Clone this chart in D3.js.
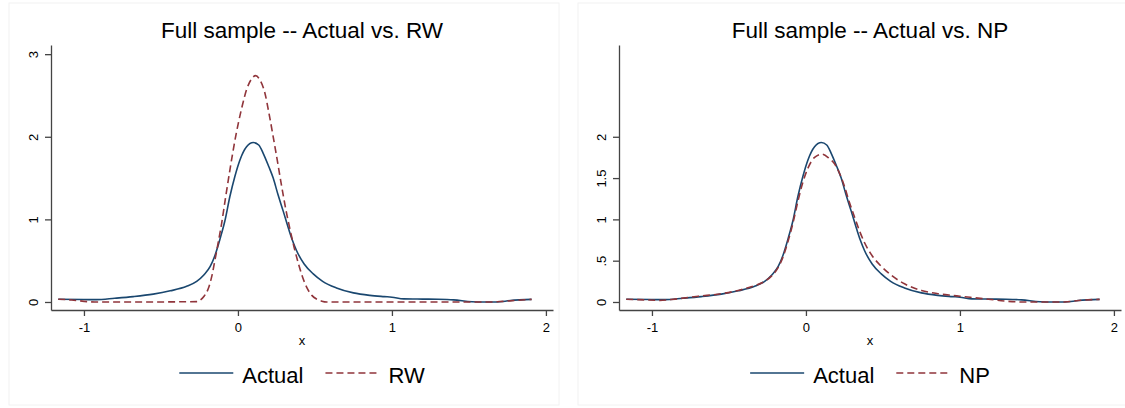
<!DOCTYPE html>
<html>
<head>
<meta charset="utf-8">
<script src="https://cdn.jsdelivr.net/npm/d3@7"></script>
<style>
  body { margin: 0; background: #fff; }
  svg { display: block; font-family: "Liberation Sans", Arial, sans-serif; }
</style>
</head>
<body>
<script>
// density estimates
const actualX = [-1.167, -1.0, -0.92, -0.8, -0.68, -0.55, -0.44, -0.333, -0.268, -0.22, -0.18, -0.15, -0.117, -0.085, -0.052, -0.02, 0.013, 0.056, 0.1, 0.135, 0.164, 0.2, 0.229, 0.26, 0.294, 0.33, 0.353, 0.381, 0.43, 0.489, 0.55, 0.64, 0.75, 0.857, 0.95, 1.0, 1.077, 1.2, 1.3, 1.4, 1.52, 1.6, 1.68, 1.77, 1.907];
const actualY = [0.034, 0.03, 0.028, 0.045, 0.065, 0.095, 0.135, 0.19, 0.25, 0.33, 0.43, 0.56, 0.76, 0.98, 1.28, 1.52, 1.72, 1.88, 1.93, 1.9, 1.8, 1.64, 1.5, 1.3, 1.1, 0.88, 0.75, 0.62, 0.46, 0.34, 0.25, 0.17, 0.11, 0.08, 0.065, 0.058, 0.038, 0.035, 0.033, 0.026, 0.003, 0.0, 0.0, 0.018, 0.032];

const rwX = [-1.167, -1.08, -0.96, -0.93, -0.6, -0.26, -0.247, -0.22, -0.193, -0.17, -0.149, -0.128, -0.106, -0.08, -0.052, -0.025, 0.002, 0.03, 0.056, 0.085, 0.115, 0.145, 0.175, 0.2, 0.229, 0.255, 0.284, 0.31, 0.338, 0.365, 0.392, 0.42, 0.446, 0.48, 0.511, 0.545, 0.576, 1.0, 1.65, 1.7, 1.8, 1.907];
const rwY = [0.034, 0.024, 0.002, 0.0, 0.0, 0.005, 0.02, 0.07, 0.16, 0.31, 0.51, 0.72, 0.95, 1.27, 1.6, 1.9, 2.16, 2.39, 2.57, 2.69, 2.74, 2.68, 2.53, 2.3, 2.0, 1.72, 1.4, 1.13, 0.88, 0.66, 0.47, 0.3, 0.18, 0.08, 0.035, 0.01, 0.0, 0.0, 0.0, 0.005, 0.018, 0.032];

const npX = [-1.167, -1.05, -0.95, -0.85, -0.7, -0.55, -0.44, -0.33, -0.268, -0.22, -0.18, -0.15, -0.117, -0.085, -0.052, -0.02, 0.013, 0.056, 0.105, 0.15, 0.187, 0.22, 0.25, 0.28, 0.317, 0.35, 0.38, 0.43, 0.49, 0.55, 0.64, 0.75, 0.86, 0.95, 1.0, 1.1, 1.2, 1.3, 1.4, 1.6, 1.68, 1.77, 1.907];
const npY = [0.034, 0.025, 0.02, 0.035, 0.07, 0.1, 0.14, 0.2, 0.25, 0.32, 0.42, 0.54, 0.73, 0.95, 1.22, 1.45, 1.62, 1.75, 1.79, 1.74, 1.67, 1.55, 1.4, 1.22, 1.02, 0.85, 0.72, 0.56, 0.43, 0.33, 0.22, 0.14, 0.1, 0.08, 0.07, 0.05, 0.03, 0.01, 0.0, 0.0, 0.0, 0.018, 0.032];

const xTicks = [-1, 0, 1, 2];
const yTicksRW = [0, 1, 2, 3];
const yTicksNP = [0, 0.5, 1, 1.5, 2];

const width = 1125;
const height = 408;
const plotW = 502;
const plotH = 265;
const navy = "#1a476f";
const maroon = "#90353b";

const svg = d3.select("body").append("svg")
  .attr("width", width)
  .attr("height", height);

const x = d3.scaleLinear().domain([-1.214, 2.046]).range([0, plotW]);
const y = d3.scaleLinear().domain([-0.097, 3.111]).range([plotH, 0]);

const line = d3.line()
  .x(d => x(d[0]))
  .y(d => y(d[1]))
  .curve(d3.curveMonotoneX);

const zip = (xs, ys) => xs.map((v, i) => [v, ys[i]]);

const fmtX = v => String(v);
const fmtNP = v => v === 0 ? "0" : (v < 1 ? ".5" : String(v));

function panel(left, frameX, title, otherX, otherY, otherName, yTicks, yFmt) {
  // faint graph border
  svg.append("rect")
    .attr("x", frameX).attr("y", 3)
    .attr("width", 550).attr("height", 402)
    .attr("fill", "none")
    .attr("stroke", "#f2f2f2");

  const g = svg.append("g").attr("transform", `translate(${left},45)`);

  g.append("text")
    .attr("x", plotW / 2)
    .attr("y", -7)
    .attr("text-anchor", "middle")
    .style("font-size", "22.5px")
    .text(title);

  const xAxis = g.append("g")
    .attr("transform", `translate(0,${plotH})`)
    .call(d3.axisBottom(x).tickValues(xTicks).tickSize(6).tickSizeOuter(0).tickPadding(7).tickFormat(fmtX));

  const yAxis = g.append("g")
    .call(d3.axisLeft(y).tickValues(yTicks).tickSize(6).tickSizeOuter(0).tickFormat(yFmt));

  [xAxis, yAxis].forEach(a => {
    a.selectAll("path, line").attr("stroke", "#444").attr("stroke-width", 1.3);
    a.selectAll("text").attr("fill", "#000").style("font-size", "13px").style("font-family", "'Liberation Sans', Arial, sans-serif");
  });

  yAxis.selectAll("text")
    .attr("x", 0)
    .attr("y", -13)
    .attr("dy", 0)
    .attr("transform", "rotate(-90)")
    .attr("text-anchor", "middle");

  g.append("text")
    .attr("x", plotW / 2)
    .attr("y", plotH + 35)
    .attr("text-anchor", "middle")
    .style("font-size", "13px")
    .text("x");

  g.append("path")
    .datum(zip(actualX, actualY))
    .attr("d", line)
    .attr("fill", "none")
    .attr("stroke", navy)
    .attr("stroke-width", 1.6);

  g.append("path")
    .datum(zip(otherX, otherY))
    .attr("d", line)
    .attr("fill", "none")
    .attr("stroke", maroon)
    .attr("stroke-width", 1.6)
    .attr("stroke-dasharray", "7,4");

  // legend, centred under the plot
  const legendY = 373 - 45;
  const legend = g.append("g");
  const items = [
    {name: "Actual", color: navy, dash: null},
    {name: otherName, color: maroon, dash: "7,4"}
  ];
  let cx = 0;
  items.forEach((it, i) => {
    if (i > 0) cx += 22;
    legend.append("line")
      .attr("x1", cx).attr("x2", cx + 54)
      .attr("y1", 0).attr("y2", 0)
      .attr("stroke", it.color)
      .attr("stroke-width", 1.6)
      .attr("stroke-dasharray", it.dash);
    cx += 63;
    const t = legend.append("text")
      .attr("x", cx)
      .attr("y", 10)
      .style("font-size", "22px")
      .text(it.name);
    cx += t.node().getComputedTextLength();
  });
  legend.attr("transform", `translate(${(plotW - cx) / 2},${legendY})`);
}

panel(51, 9, "Full sample -- Actual vs. RW", rwX, rwY, "RW", yTicksRW, fmtX);
panel(619, 578, "Full sample -- Actual vs. NP", npX, npY, "NP", yTicksNP, fmtNP);
</script>
</body>
</html>
